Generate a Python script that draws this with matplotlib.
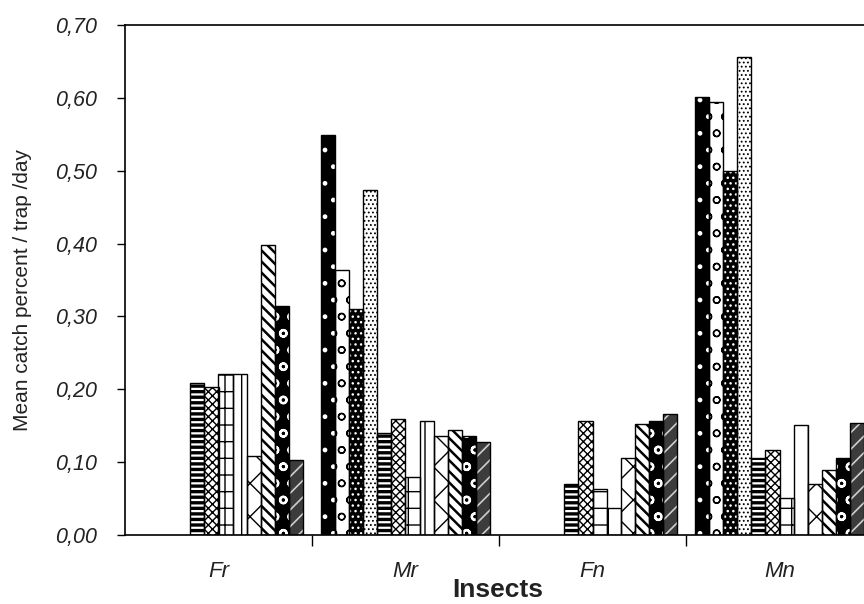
import matplotlib
matplotlib.use("Agg")
import matplotlib.pyplot as plt
import numpy as np
from matplotlib.ticker import FuncFormatter, FixedLocator

# Mean catch percent per trap per day, 12 trap treatments per insect group
categories = ["Fr", "Mr", "Fn", "Mn"]
fr_values = [0.0, 0.0, 0.0, 0.0, 0.209, 0.203, 0.221, 0.221, 0.108, 0.398, 0.314, 0.103]
mr_values = [0.549, 0.364, 0.310, 0.473, 0.140, 0.159, 0.080, 0.156, 0.136, 0.144, 0.136, 0.128]
fn_values = [0.0, 0.0, 0.0, 0.0, 0.070, 0.156, 0.063, 0.037, 0.106, 0.152, 0.156, 0.166]
mn_values = [0.601, 0.594, 0.499, 0.656, 0.106, 0.117, 0.051, 0.151, 0.070, 0.089, 0.106, 0.154]
y_ticks = [0.0, 0.1, 0.2, 0.3, 0.4, 0.5, 0.6, 0.7]

groups = [fr_values, mr_values, fn_values, mn_values]

# (face colour, hatch, hatch colour, hatch line width) for each treatment
styles = [
    ("black", ".", "white", 1.0),
    ("white", "o", "black", 1.0),
    ("black", "...", "white", 1.0),
    ("white", "....", "black", 0.8),
    ("white", "---", "black", 2.4),
    ("white", "xxxx", "black", 1.0),
    ("white", "+", "black", 1.0),
    ("white", "|", "black", 1.0),
    ("white", "x", "black", 1.0),
    ("white", "\\\\\\", "black", 1.8),
    ("black", "o", "white", 1.6),
    ("#3c3c3c", "//", "#cfcfcf", 1.2),
]

plt.rcParams["font.family"] = ["Liberation Sans", "DejaVu Sans"]

fig = plt.figure(figsize=(8.64, 6.04), dpi=100)
ax = fig.add_axes([125 / 864, 1 - 535 / 604, 748 / 864, 510 / 604])

n_series = len(styles)
span = 0.904
width = span / n_series
offsets = (np.arange(n_series) - (n_series - 1) / 2) * width
centers = np.arange(len(categories)) + 0.5

for s, (face, hatch, hcol, hlw) in enumerate(styles):
    vals = np.array([g[s] for g in groups])
    xs = centers + offsets[s]
    keep = vals > 0
    with plt.rc_context({"hatch.linewidth": hlw}):
        fill = ax.bar(xs[keep], vals[keep], width=width, color=face, edgecolor=hcol,
                      hatch=hatch, linewidth=0, zorder=2)
        for p in fill.patches:
            if hasattr(p, "set_hatch_linewidth"):
                p.set_hatch_linewidth(hlw)
    ax.bar(xs[keep], vals[keep], width=width, fill=False, edgecolor="black",
           linewidth=1.0, zorder=3)

ax.set_xlim(0, 4)
ax.set_ylim(0, 0.70)
ax.set_yticks(y_ticks)
ax.yaxis.set_major_formatter(FuncFormatter(lambda v, p: f"{v:.2f}".replace(".", ",")))
for lab in ax.get_yticklabels():
    lab.set_fontstyle("italic")
    lab.set_fontsize(15.5)
    lab.set_color("#222222")
ax.tick_params(axis="y", direction="out", length=6, width=1, pad=14)

ax.set_xticks(centers)
ax.set_xticklabels(categories, fontsize=16, fontstyle="italic", color="#222222")
ax.tick_params(axis="x", which="major", length=0, pad=19)
ax.xaxis.set_minor_locator(FixedLocator([1, 2, 3]))
ax.tick_params(axis="x", which="minor", direction="out", length=8, width=1)

ax.set_xlabel("Insects", fontsize=19, fontweight="bold", color="#222222")
ax.xaxis.set_label_coords((498 - 125) / 748, -43 / 510)
ax.set_ylabel("Mean catch percent / trap /day", fontsize=15, color="#222222")
ax.yaxis.set_label_coords((32 - 125) / 748, 0.48)

for side in ["left", "bottom", "top"]:
    ax.spines[side].set_linewidth(1.2)
ax.spines["right"].set_visible(False)

fig.savefig("out.png", dpi=100)
